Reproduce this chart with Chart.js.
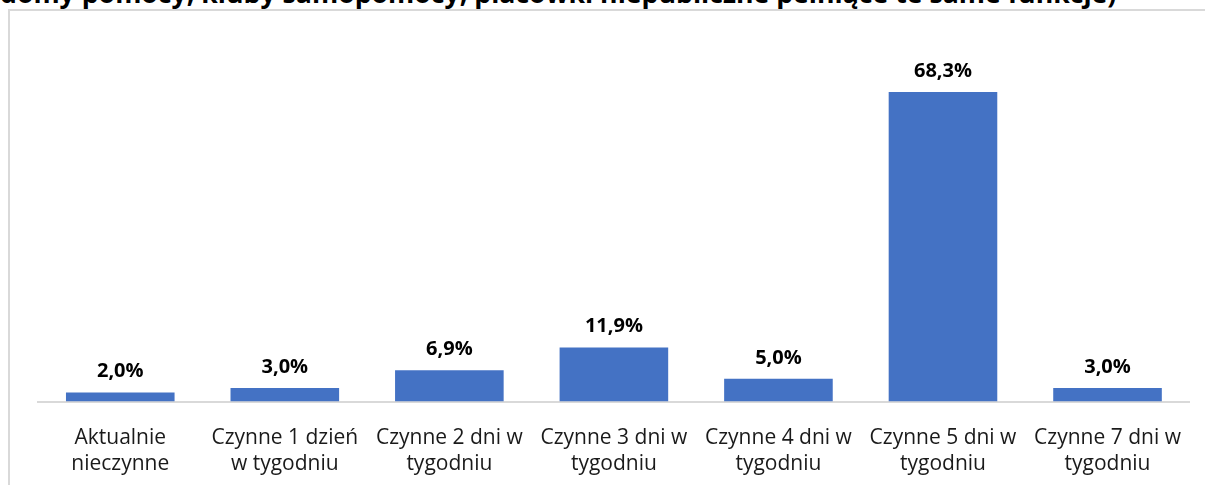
<!DOCTYPE html>
<html>
<head>
<meta charset="utf-8">
<script src="https://cdn.jsdelivr.net/npm/chart.js@4"></script>
<style>
  html, body { margin: 0; padding: 0; background: #fff; overflow: hidden; }
  #wrap { position: relative; width: 1205px; height: 485px; overflow: hidden; }
  #frame { position: absolute; left: 8px; top: 9px; width: 1220px; height: 500px; border: 2px solid #d9d9d9; box-sizing: border-box; }
  #title { position: absolute; left: 0px; top: -21px; white-space: nowrap; font-family: "Open Sans", sans-serif; font-weight: 700; font-size: 22px; color: #000; line-height: 28px; }
  #chart { position: absolute; left: 0; top: 0; }
</style>
</head>
<body>
<div id="wrap">
  <div id="frame"></div>
  <div id="title">domy pomocy, kluby samopomocy, placówki niepubliczne pełniące te same funkcje)</div>
  <canvas id="chart" width="1205" height="508"></canvas>
</div>
<script>
var categories = [
    ['Aktualnie', 'nieczynne'],
    ['Czynne 1 dzień', 'w tygodniu'],
    ['Czynne 2 dni w', 'tygodniu'],
    ['Czynne 3 dni w', 'tygodniu'],
    ['Czynne 4 dni w', 'tygodniu'],
    ['Czynne 5 dni w', 'tygodniu'],
    ['Czynne 7 dni w', 'tygodniu']
];
var values = [2.0, 3.0, 6.9, 11.9, 5.0, 68.3, 3.0];
var yMax = 80;

// fit the clipped title to the width it has in the picture
(function() {
    var t = document.getElementById('title');
    var w = t.getBoundingClientRect().width;
    var fs = 22 * 1118 / w;
    t.style.fontSize = fs.toFixed(1) + 'px';
})();

function pl(v) {
    return v.toFixed(1).replace('.', ',') + '%';
}

var valueLabels = {
    id: 'valueLabels',
    afterDatasetsDraw: function(chart) {
        var ctx = chart.ctx;
        var meta = chart.getDatasetMeta(0);
        ctx.save();
        ctx.font = 'bold 20px "Open Sans", sans-serif';
        ctx.fillStyle = '#000';
        ctx.textAlign = 'center';
        ctx.textBaseline = 'bottom';
        meta.data.forEach(function(bar, i) {
            ctx.fillText(pl(values[i]), bar.x, bar.y - 11);
        });
        ctx.restore();
    }
};

new Chart(document.getElementById('chart').getContext('2d'), {
    type: 'bar',
    data: {
        labels: categories,
        datasets: [{
            data: values,
            backgroundColor: '#4472C4',
            barPercentage: 0.66,
            categoryPercentage: 1.0
        }]
    },
    options: {
        responsive: false,
        animation: false,
        layout: { padding: { left: 38, right: 15, top: 39, bottom: 8 } },
        scales: {
            x: {
                grid: { display: false, drawTicks: false },
                border: { display: true, color: '#d9d9d9', width: 2 },
                ticks: {
                    color: '#1a1a1a',
                    font: { family: '"Open Sans", sans-serif', size: 21, lineHeight: 1.25 },
                    padding: 23,
                    maxRotation: 0,
                    autoSkip: false
                }
            },
            y: {
                display: false,
                min: 0,
                max: yMax
            }
        },
        plugins: {
            legend: { display: false },
            tooltip: { enabled: false }
        }
    },
    plugins: [valueLabels]
});
</script>
</body>
</html>
